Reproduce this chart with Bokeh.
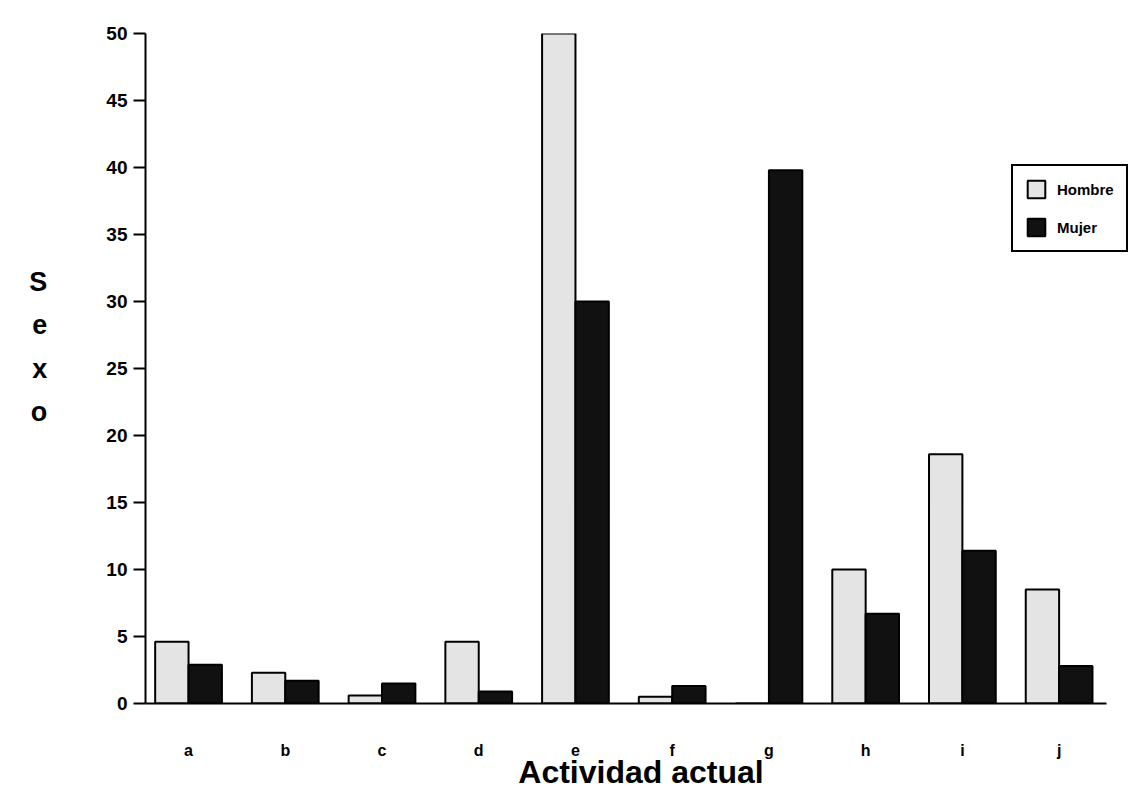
from bokeh.plotting import figure
from bokeh.models import Legend, LegendItem, ColumnDataSource, FixedTicker, Range1d
from bokeh.embed import file_html
from bokeh.resources import INLINE

categories = ["a", "b", "c", "d", "e", "f", "g", "h", "i", "j"]
hombre = [4.6, 2.3, 0.6, 4.6, 50.0, 0.5, 0.0, 10.0, 18.6, 8.5]
mujer = [2.9, 1.7, 1.5, 0.9, 30.0, 1.3, 39.8, 6.7, 11.4, 2.8]
y_ticks = [0, 5, 10, 15, 20, 25, 30, 35, 40, 45, 50]

FONT = "'Liberation Sans Narrow', 'Liberation Sans', Arial, sans-serif"

xs = list(range(len(categories)))
bw = 0.345
src = ColumnDataSource(dict(
    xh=[x - bw / 2 for x in xs],
    xm=[x + bw / 2 for x in xs],
    hombre=hombre,
    mujer=mujer,
))

p = figure(width=1136, height=792, output_backend="svg", toolbar_location=None,
           x_range=Range1d(-0.445, 9.80), y_range=Range1d(0, 50),
           min_border_left=145, min_border_right=0, min_border_top=33, min_border_bottom=86)
p.outline_line_color = None
p.xgrid.grid_line_color = None
p.ygrid.grid_line_color = None
p.background_fill_color = "white"
p.border_fill_color = "white"

rh = p.vbar(x="xh", top="hombre", width=bw, source=src, fill_color="#e4e4e4",
            line_color="black", line_width=2)
rm = p.vbar(x="xm", top="mujer", width=bw, source=src, fill_color="#111111",
            line_color="black", line_width=2)

# y axis
p.yaxis.ticker = FixedTicker(ticks=y_ticks)
p.yaxis.major_tick_out = 12
p.yaxis.major_tick_in = 0
p.yaxis.minor_tick_line_color = None
p.yaxis.axis_line_width = 2
p.yaxis.major_tick_line_width = 2
p.yaxis.major_label_text_font = FONT
p.yaxis.major_label_text_font_style = "bold"
p.yaxis.major_label_text_font_size = "19px"
p.yaxis.major_label_text_color = "black"
p.yaxis.major_label_standoff = 6
p.yaxis.axis_label = "S\ne\nx\no\n"
p.yaxis.axis_label_text_font = FONT
p.yaxis.axis_label_text_font_style = "bold"
p.yaxis.axis_label_text_font_size = "27px"
p.yaxis.axis_label_text_color = "black"
p.yaxis.axis_label_text_line_height = 1.45
p.yaxis.axis_label_standoff = 56
try:
    p.yaxis.axis_label_orientation = "horizontal"
except Exception:
    pass

# x axis
p.xaxis.bounds = (-0.445, 9.49)
p.xaxis.ticker = FixedTicker(ticks=xs)
p.xaxis.major_label_overrides = {i: c for i, c in enumerate(categories)}
p.xaxis.major_tick_out = 0
p.xaxis.major_tick_in = 0
p.xaxis.minor_tick_line_color = None
p.xaxis.axis_line_width = 2
p.xaxis.major_label_text_font = FONT
p.xaxis.major_label_text_font_style = "bold"
p.xaxis.major_label_text_font_size = "16px"
p.xaxis.major_label_text_color = "black"
p.xaxis.major_label_standoff = 38
p.xaxis.axis_label = "Actividad actual"
p.xaxis.axis_label_text_font = FONT
p.xaxis.axis_label_text_font_style = "bold"
p.xaxis.axis_label_text_font_size = "32px"
p.xaxis.axis_label_text_color = "black"
p.xaxis.axis_label_standoff = -8

legend = Legend(items=[LegendItem(label="Hombre", renderers=[rh]),
                       LegendItem(label="Mujer", renderers=[rm])],
                location=(866, 451))
legend.border_line_color = "black"
legend.border_line_alpha = 1
legend.border_line_width = 2
legend.label_text_font = FONT
legend.label_text_font_style = "bold"
legend.label_text_font_size = "15px"
legend.label_text_color = "black"
legend.glyph_width = 22
legend.glyph_height = 22
legend.spacing = 16
legend.padding = 12
legend.label_standoff = 10
legend.label_width = 56
legend.background_fill_alpha = 1
p.add_layout(legend, "center")

open("out.html", "w").write(file_html(p, INLINE))
